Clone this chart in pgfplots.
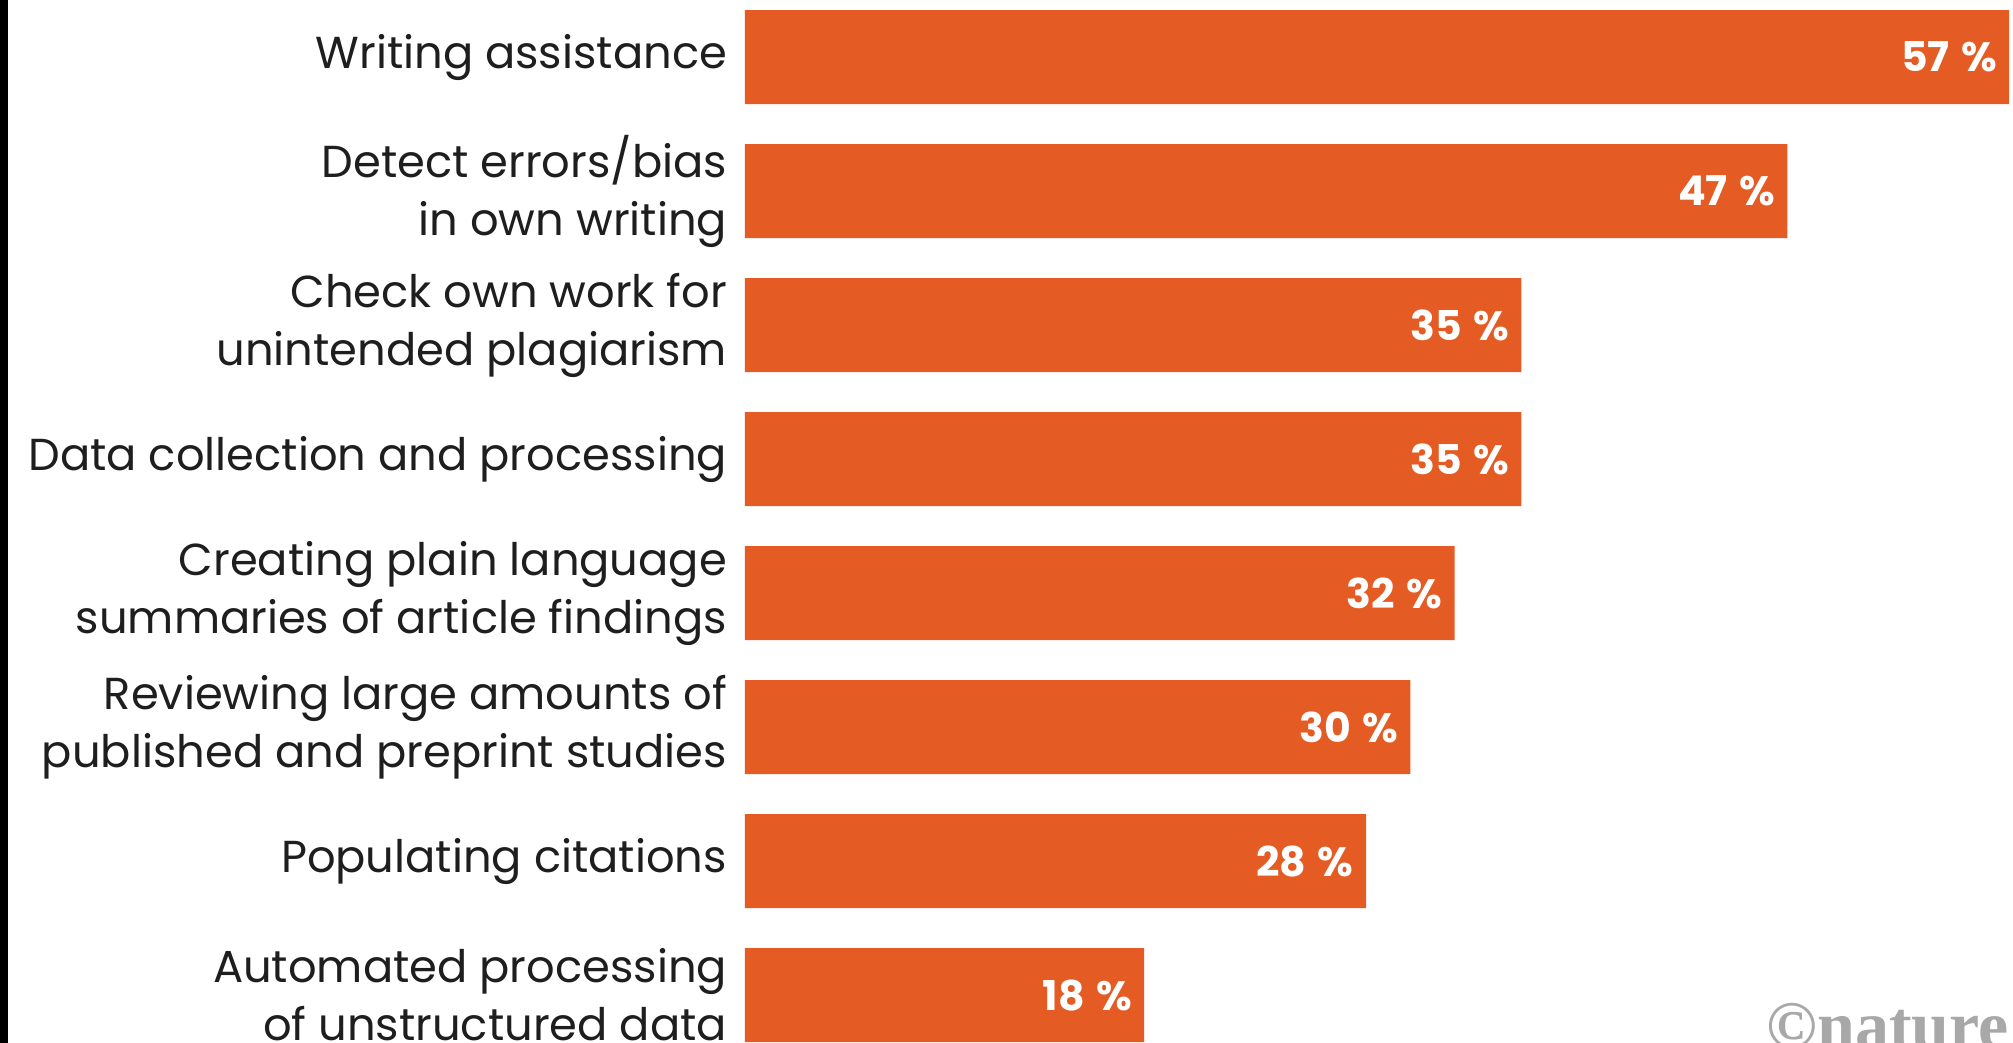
\documentclass[border=0pt]{standalone}
\usepackage{pgfplots}
\pgfplotsset{compat=1.18}
\usepackage{fontspec}
\setmainfont{Poppins}
\newfontfamily\logofont{Liberation Serif}
\definecolor{barorange}{RGB}{229,91,36}
\definecolor{labeltext}{RGB}{30,30,30}
\definecolor{logogray}{RGB}{168,168,168}
\begin{document}
\begin{tikzpicture}
\begin{axis}[
  scale only axis,
  width=634pt, height=521.5pt,
  xmin=0, xmax=57.17,
  ymin=-0.4254, ymax=7.358,
  y dir=reverse,
  axis line style={draw=none},
  major tick style={draw=none},
  xtick=\empty,
  ytick={0,1,2,3,4,5,6,7},
  /pgf/number format/assume math mode=true,
  yticklabels={
    Writing assistance,
    {Detect errors/bias\\in own writing},
    {Check own work for\\unintended plagiarism},
    Data collection and processing,
    {Creating plain language\\summaries of article findings},
    {Reviewing large amounts of\\published and preprint studies},
    Populating citations,
    {Automated processing\\of unstructured data}},
  yticklabel style={align=right, anchor=east, inner sep=0pt, xshift=-4.5pt, yshift=0pt,
    font=\fontsize{22.4}{29}\selectfont, text=labeltext},
  xbar, bar width=47pt, bar shift=0pt,
  clip=false,
  point meta=x,
  nodes near coords={\pgfmathprintnumber{\pgfplotspointmeta}\hspace{0.28em}\%},
  nodes near coords style={anchor=east, inner sep=0pt, xshift=-6pt,
    font=\fontsize{20.5}{24}\selectfont\bfseries, text=white},
]
\addplot[fill=barorange, draw=none] coordinates {
  (57,0) (47,1) (35,2) (35,3) (32,4) (30,5) (28,6) (18,7)
};
\end{axis}
\node[anchor=base east, inner sep=0pt, font=\logofont\fontsize{34}{34}\selectfont\bfseries, text=logogray]
  at ([xshift=-2pt, yshift=-3pt]current axis.south east) {©nature};
\pgfresetboundingbox
\path[use as bounding box] ([xshift=-372.5pt]current axis.south west) rectangle (current axis.north east);
\fill[black] ([xshift=-372.5pt]current axis.south west) rectangle ([xshift=-368.5pt]current axis.north west);
\end{tikzpicture}
\end{document}
